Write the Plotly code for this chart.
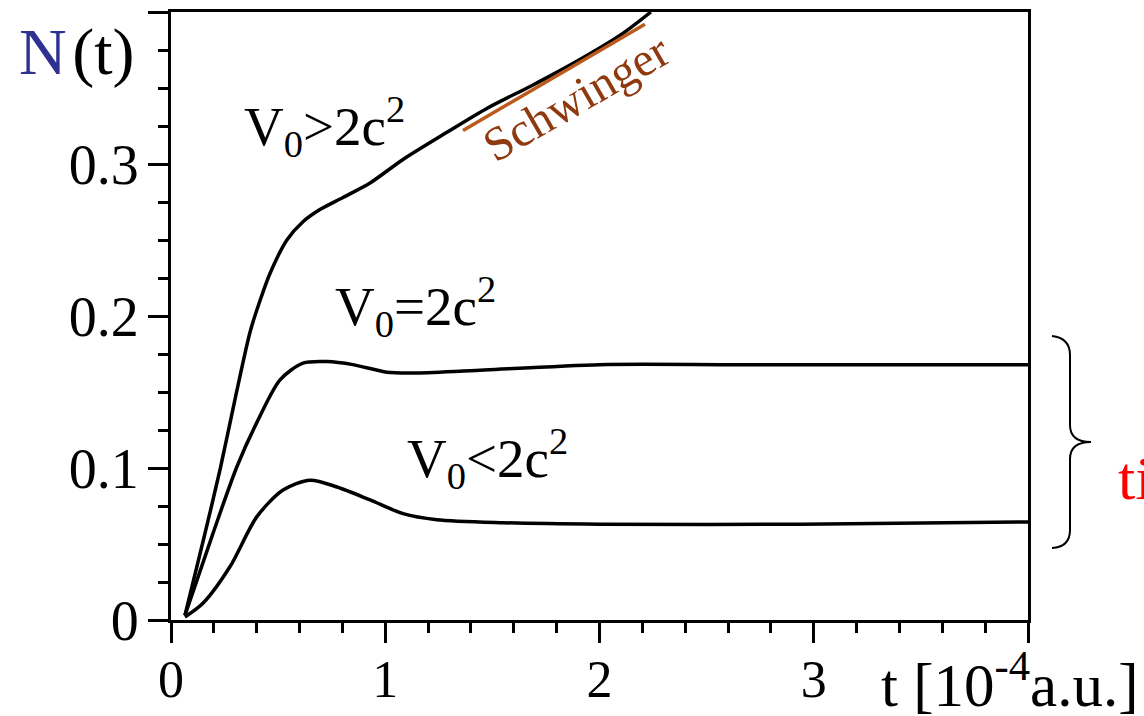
import plotly.graph_objects as go

# ---- data ----
t_above = [0.065, 0.15, 0.229, 0.30, 0.37, 0.42, 0.462, 0.541, 0.616, 0.695, 0.803, 0.929, 1.083, 1.29, 1.48, 1.69, 1.90, 2.10, 2.24]
n_above = [0.003, 0.052, 0.099, 0.146, 0.190, 0.212, 0.228, 0.250, 0.262, 0.270, 0.278, 0.2875, 0.303, 0.321, 0.337, 0.352, 0.368, 0.385, 0.400]

t_equal = [0.065, 0.196, 0.308, 0.401, 0.509, 0.616, 0.728, 0.849, 1.008, 1.13, 1.396, 2.0, 2.62, 3.3, 4.0]
n_equal = [0.003, 0.057, 0.101, 0.130, 0.158, 0.169, 0.170, 0.168, 0.163, 0.1625, 0.164, 0.168, 0.168, 0.168, 0.168]

t_below = [0.065, 0.149, 0.275, 0.401, 0.523, 0.649, 0.775, 0.929, 1.083, 1.24, 1.55, 2.0, 2.94, 4.0]
n_below = [0.002, 0.011, 0.035, 0.068, 0.0855, 0.092, 0.0875, 0.079, 0.070, 0.066, 0.064, 0.063, 0.063, 0.0645]

t_schwinger = [1.363, 2.212]
n_schwinger = [0.322, 0.392]

x_tickvals = [0, 1, 2, 3, 4]
x_ticktext = ["0", "1", "2", "3", ""]
y_tickvals = [0, 0.1, 0.2, 0.3, 0.4]
y_ticktext = ["0", "0.1", "0.2", "0.3", ""]

labels_text = ["V<sub>0</sub>>2c<sup>2</sup>", "V<sub>0</sub>=2c<sup>2</sup>", "V<sub>0</sub><2c<sup>2</sup>"]
labels_x = [0.331, 0.756, 1.092]
labels_y = [0.325, 0.206, 0.106]

SERIF = "Liberation Serif, Times New Roman, serif"

fig = go.Figure()
for tx, ny in [(t_above, n_above), (t_equal, n_equal), (t_below, n_below)]:
    fig.add_trace(go.Scatter(x=tx, y=ny, mode="lines", line=dict(color="black", width=3.5, shape="spline", smoothing=0.8),
                             showlegend=False, hoverinfo="skip"))
fig.add_trace(go.Scatter(x=t_schwinger, y=n_schwinger, mode="lines", line=dict(color="#BB5A1C", width=3.5),
                         showlegend=False, hoverinfo="skip"))

L, R, T, B = 171, 116, 12, 96
W, H = 1144, 716
pw, ph = W - L - R, H - T - B

def px(x):
    return (x - L) / pw

def py(y):
    return (H - B - y) / ph

annotations = []
for txt, ax, ay in zip(labels_text, labels_x, labels_y):
    annotations.append(dict(x=ax, y=ay, xref="x", yref="y", text=txt, showarrow=False,
                            xanchor="left", yanchor="middle", font=dict(family=SERIF, size=55, color="black")))
annotations.append(dict(x=1.89, y=0.344, xref="x", yref="y", text="Schwinger", showarrow=False,
                        textangle=-30, font=dict(family=SERIF, size=48, color="#8E3A0E")))
annotations.append(dict(x=px(17), y=py(52), xref="paper", yref="paper",
                        text='<span style="color:#2E3192">N</span>\u200a(t)', showarrow=False,
                        xanchor="left", yanchor="middle", font=dict(family=SERIF, size=66, color="black")))
annotations.append(dict(x=px(1140), y=py(680), xref="paper", yref="paper",
                        text="t [10<sup>-4</sup>a.u.]", showarrow=False,
                        xanchor="right", yanchor="middle", font=dict(family=SERIF, size=61, color="black")))
annotations.append(dict(x=px(1116), y=py(478), xref="paper", yref="paper",
                        text="ti", showarrow=False,
                        xanchor="left", yanchor="middle", font=dict(family=SERIF, size=62, color="#FF0000")))

# curly brace (decoration) in paper coordinates
brace_pts = [(1052, 336), (1070, 338), (1070, 355), (1070, 425), (1070, 442), (1091, 442),
             (1070, 442), (1070, 459), (1070, 530), (1070, 547), (1052, 548)]
P = [(px(a), py(b)) for a, b in brace_pts]
path = (f"M {P[0][0]},{P[0][1]} Q {P[1][0]},{P[1][1]} {P[2][0]},{P[2][1]} L {P[3][0]},{P[3][1]} "
        f"Q {P[4][0]},{P[4][1]} {P[5][0]},{P[5][1]} Q {P[6][0]},{P[6][1]} {P[7][0]},{P[7][1]} "
        f"L {P[8][0]},{P[8][1]} Q {P[9][0]},{P[9][1]} {P[10][0]},{P[10][1]}")

fig.update_layout(
    width=W, height=H,
    margin=dict(l=L, r=R, t=T, b=B, pad=0, autoexpand=False),
    paper_bgcolor="white", plot_bgcolor="white",
    xaxis=dict(range=[0, 4], tickvals=x_tickvals, ticktext=x_ticktext, ticks="outside", ticklen=20, tickwidth=3,
               tickcolor="black", showline=True, linewidth=3, linecolor="black", mirror=True, showgrid=False,
               zeroline=False, automargin=False, ticklabelstandoff=-8,
               tickfont=dict(family=SERIF, size=52, color="black"),
               minor=dict(dtick=0.2, ticks="outside", ticklen=10, tickwidth=3, tickcolor="black", showgrid=False)),
    yaxis=dict(range=[0, 0.4], tickvals=y_tickvals, ticktext=y_ticktext, ticks="outside", ticklen=20, tickwidth=3,
               tickcolor="black", showline=True, linewidth=3, linecolor="black", mirror=True, showgrid=False,
               zeroline=False, automargin=False, ticklabelstandoff=-2,
               tickfont=dict(family=SERIF, size=56, color="black"),
               minor=dict(dtick=0.025, ticks="outside", ticklen=10, tickwidth=3, tickcolor="black", showgrid=False)),
    annotations=annotations,
    shapes=[dict(type="path", path=path, xref="paper", yref="paper", line=dict(color="black", width=2))],
)

fig.write_html("out.html")
